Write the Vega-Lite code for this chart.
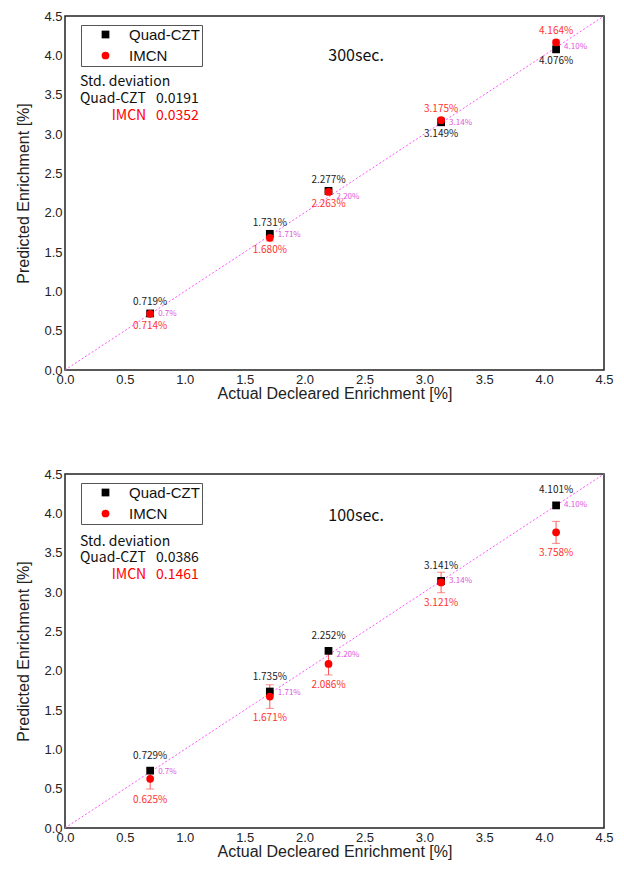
{
  "$schema": "https://vega.github.io/schema/vega-lite/v6.json",
  "padding": {"left": 15, "top": 9, "right": 6, "bottom": 5},
  "background": "white",
  "datasets": {
    "diag": [{"act": 0, "val": 0}, {"act": 4.5, "val": 4.5}],
    "p300": [
      {"act": 0.711, "actLab": "0.7%", "series": "Quad-CZT", "val": 0.719, "lab": "0.719%", "err": 0.0},
      {"act": 1.71, "actLab": "1.71%", "series": "Quad-CZT", "val": 1.731, "lab": "1.731%", "err": 0.0},
      {"act": 2.2, "actLab": "2.20%", "series": "Quad-CZT", "val": 2.277, "lab": "2.277%", "err": 0.0},
      {"act": 3.14, "actLab": "3.14%", "series": "Quad-CZT", "val": 3.149, "lab": "3.149%", "err": 0.0},
      {"act": 4.1, "actLab": "4.10%", "series": "Quad-CZT", "val": 4.076, "lab": "4.076%", "err": 0.0},
      {"act": 0.711, "actLab": "0.7%", "series": "IMCN", "val": 0.714, "lab": "0.714%", "err": 0.03},
      {"act": 1.71, "actLab": "1.71%", "series": "IMCN", "val": 1.68, "lab": "1.680%", "err": 0.04},
      {"act": 2.2, "actLab": "2.20%", "series": "IMCN", "val": 2.263, "lab": "2.263%", "err": 0.03},
      {"act": 3.14, "actLab": "3.14%", "series": "IMCN", "val": 3.175, "lab": "3.175%", "err": 0.03},
      {"act": 4.1, "actLab": "4.10%", "series": "IMCN", "val": 4.164, "lab": "4.164%", "err": 0.03}
    ],
    "p100": [
      {"act": 0.711, "actLab": "0.7%", "series": "Quad-CZT", "val": 0.729, "lab": "0.729%", "err": 0.0},
      {"act": 1.71, "actLab": "1.71%", "series": "Quad-CZT", "val": 1.735, "lab": "1.735%", "err": 0.0},
      {"act": 2.2, "actLab": "2.20%", "series": "Quad-CZT", "val": 2.252, "lab": "2.252%", "err": 0.0},
      {"act": 3.14, "actLab": "3.14%", "series": "Quad-CZT", "val": 3.141, "lab": "3.141%", "err": 0.0},
      {"act": 4.1, "actLab": "4.10%", "series": "Quad-CZT", "val": 4.101, "lab": "4.101%", "err": 0.0},
      {"act": 0.711, "actLab": "0.7%", "series": "IMCN", "val": 0.625, "lab": "0.625%", "err": 0.13},
      {"act": 1.71, "actLab": "1.71%", "series": "IMCN", "val": 1.671, "lab": "1.671%", "err": 0.15},
      {"act": 2.2, "actLab": "2.20%", "series": "IMCN", "val": 2.086, "lab": "2.086%", "err": 0.14},
      {"act": 3.14, "actLab": "3.14%", "series": "IMCN", "val": 3.121, "lab": "3.121%", "err": 0.13},
      {"act": 4.1, "actLab": "4.10%", "series": "IMCN", "val": 3.758, "lab": "3.758%", "err": 0.14}
    ],
    "note300": [{"t": "300sec.", "sd": "Std. deviation", "q": "Quad-CZT", "qv": "0.0191", "i": "IMCN", "iv": "0.0352"}],
    "note100": [{"t": "100sec.", "sd": "Std. deviation", "q": "Quad-CZT", "qv": "0.0386", "i": "IMCN", "iv": "0.1461"}]
  },
  "config": {
    "view": {"stroke": "#222", "strokeWidth": 1.5},
    "axis": {
      "grid": false, "domain": false, "ticks": false, "tickCount": 9,
      "labelFont": "Liberation Sans", "labelFontSize": 13, "labelColor": "#222",
      "titleFont": "Liberation Sans", "titleFontSize": 16, "titleFontWeight": "normal", "titleColor": "#222",
      "labelPadding": 3, "labelOverlap": false, "labelFlush": false
    },
    "axisX": {"titlePadding": -1, "labelPadding": 3},
    "axisY": {"titlePadding": 12},
    "legend": {
      "orient": "none", "legendX": 16, "legendY": 9, "title": null,
      "strokeColor": "#555", "fillColor": "white", "padding": 2,
      "labelFont": "Liberation Sans", "labelFontSize": 15, "labelColor": "#111",
      "symbolSize": 60, "symbolOffset": 15, "labelOffset": 16, "rowPadding": 5,
      "symbolStrokeWidth": 0
    }
  },
  "spacing": 65,
  "resolve": {"scale": {"color": "independent", "shape": "independent"}, "legend": {"color": "independent", "shape": "independent"}},
  "vconcat": [
    {
      "width": 539, "height": 354,
      "layer": [
        {
          "data": {"name": "diag"},
          "mark": {"type": "line", "color": "#ff55ff", "strokeDash": [2, 2], "strokeWidth": 1},
          "encoding": {
            "x": {"field": "act", "type": "quantitative", "scale": {"domain": [0, 4.5], "nice": false}, "title": "Actual Decleared Enrichment [%]"},
            "y": {"field": "val", "type": "quantitative", "scale": {"domain": [0, 4.5], "nice": false}, "title": "Predicted Enrichment [%]"}
          }
        },
        {
          "data": {"name": "p300"},
          "transform": [{"filter": "datum.series == 'IMCN'"}],
          "mark": {"type": "errorbar", "ticks": {"size": 8}, "color": "#ff5555"},
          "encoding": {
            "x": {"field": "act", "type": "quantitative", "title": "Actual Decleared Enrichment [%]"},
            "y": {"field": "val", "type": "quantitative", "title": "Predicted Enrichment [%]"},
            "yError": {"field": "err"}
          }
        },
        {
          "data": {"name": "p300"},
          "mark": {"type": "point", "filled": true, "size": 60, "opacity": 1},
          "encoding": {
            "x": {"field": "act", "type": "quantitative", "title": "Actual Decleared Enrichment [%]"},
            "y": {"field": "val", "type": "quantitative", "title": "Predicted Enrichment [%]"},
            "color": {"field": "series", "type": "nominal", "scale": {"domain": ["Quad-CZT", "IMCN"], "range": ["#000000", "#ff0000"]}},
            "shape": {"field": "series", "type": "nominal", "scale": {"domain": ["Quad-CZT", "IMCN"], "range": ["square", "circle"]}}
          }
        },
        {
          "data": {"name": "p300"},
          "transform": [{"filter": "datum.series == 'Quad-CZT' && datum.act < 3"}],
          "mark": {"type": "text", "dy": -11, "fontSize": 10, "font": "Noto Sans CJK KR", "color": "#222222"},
          "encoding": {
            "x": {"field": "act", "type": "quantitative", "title": "Actual Decleared Enrichment [%]"},
            "y": {"field": "val", "type": "quantitative", "title": "Predicted Enrichment [%]"},
            "text": {"field": "lab"}
          }
        },
        {
          "data": {"name": "p300"},
          "transform": [{"filter": "datum.series == 'Quad-CZT' && datum.act > 3"}],
          "mark": {"type": "text", "dy": 12, "fontSize": 10, "font": "Noto Sans CJK KR", "color": "#222222"},
          "encoding": {
            "x": {"field": "act", "type": "quantitative", "title": "Actual Decleared Enrichment [%]"},
            "y": {"field": "val", "type": "quantitative", "title": "Predicted Enrichment [%]"},
            "text": {"field": "lab"}
          }
        },
        {
          "data": {"name": "p300"},
          "transform": [{"filter": "datum.series == 'IMCN' && datum.act > 3"}],
          "mark": {"type": "text", "dy": -11, "fontSize": 10, "font": "Noto Sans CJK KR", "color": "#ff3333"},
          "encoding": {
            "x": {"field": "act", "type": "quantitative", "title": "Actual Decleared Enrichment [%]"},
            "y": {"field": "val", "type": "quantitative", "title": "Predicted Enrichment [%]"},
            "text": {"field": "lab"}
          }
        },
        {
          "data": {"name": "p300"},
          "transform": [{"filter": "datum.series == 'IMCN' && datum.act < 3"}],
          "mark": {"type": "text", "dy": 12, "fontSize": 10, "font": "Noto Sans CJK KR", "color": "#ff3333"},
          "encoding": {
            "x": {"field": "act", "type": "quantitative", "title": "Actual Decleared Enrichment [%]"},
            "y": {"field": "val", "type": "quantitative", "title": "Predicted Enrichment [%]"},
            "text": {"field": "lab"}
          }
        },
        {
          "data": {"name": "p300"},
          "transform": [{"filter": "datum.series == 'Quad-CZT'"}],
          "mark": {"type": "text", "dx": 8, "align": "left", "fontSize": 8, "font": "Noto Sans CJK KR", "color": "#e055e0"},
          "encoding": {
            "x": {"field": "act", "type": "quantitative", "title": "Actual Decleared Enrichment [%]"},
            "y": {"field": "act", "type": "quantitative", "title": "Predicted Enrichment [%]"},
            "text": {"field": "actLab"}
          }
        },
        {
          "data": {"name": "note300"},
          "mark": {"type": "text", "align": "center", "fontSize": 16, "font": "Noto Sans CJK KR", "color": "#111"},
          "encoding": {"x": {"datum": 2.43}, "y": {"datum": 3.99}, "text": {"field": "t"}}
        },
        {
          "data": {"name": "note300"},
          "mark": {"type": "text", "align": "left", "fontSize": 14, "font": "Noto Sans CJK KR", "color": "#111"},
          "encoding": {"x": {"datum": 0.125}, "y": {"datum": 3.66}, "text": {"field": "sd"}}
        },
        {
          "data": {"name": "note300"},
          "mark": {"type": "text", "align": "left", "fontSize": 14, "font": "Noto Sans CJK KR", "color": "#111"},
          "encoding": {"x": {"datum": 0.125}, "y": {"datum": 3.45}, "text": {"field": "q"}}
        },
        {
          "data": {"name": "note300"},
          "mark": {"type": "text", "align": "left", "fontSize": 14, "font": "Noto Sans CJK KR", "color": "#111"},
          "encoding": {"x": {"datum": 0.76}, "y": {"datum": 3.45}, "text": {"field": "qv"}}
        },
        {
          "data": {"name": "note300"},
          "mark": {"type": "text", "align": "left", "fontSize": 14, "font": "Noto Sans CJK KR", "color": "#ff0000"},
          "encoding": {"x": {"datum": 0.39}, "y": {"datum": 3.23}, "text": {"field": "i"}}
        },
        {
          "data": {"name": "note300"},
          "mark": {"type": "text", "align": "left", "fontSize": 14, "font": "Noto Sans CJK KR", "color": "#ff0000"},
          "encoding": {"x": {"datum": 0.76}, "y": {"datum": 3.23}, "text": {"field": "iv"}}
        }
      ]
    },
    {
      "width": 539, "height": 354,
      "layer": [
        {
          "data": {"name": "diag"},
          "mark": {"type": "line", "color": "#ff55ff", "strokeDash": [2, 2], "strokeWidth": 1},
          "encoding": {
            "x": {"field": "act", "type": "quantitative", "scale": {"domain": [0, 4.5], "nice": false}, "title": "Actual Decleared Enrichment [%]"},
            "y": {"field": "val", "type": "quantitative", "scale": {"domain": [0, 4.5], "nice": false}, "title": "Predicted Enrichment [%]"}
          }
        },
        {
          "data": {"name": "p100"},
          "transform": [{"filter": "datum.series == 'IMCN'"}],
          "mark": {"type": "errorbar", "ticks": {"size": 8}, "color": "#ff5555"},
          "encoding": {
            "x": {"field": "act", "type": "quantitative", "title": "Actual Decleared Enrichment [%]"},
            "y": {"field": "val", "type": "quantitative", "title": "Predicted Enrichment [%]"},
            "yError": {"field": "err"}
          }
        },
        {
          "data": {"name": "p100"},
          "mark": {"type": "point", "filled": true, "size": 60, "opacity": 1},
          "encoding": {
            "x": {"field": "act", "type": "quantitative", "title": "Actual Decleared Enrichment [%]"},
            "y": {"field": "val", "type": "quantitative", "title": "Predicted Enrichment [%]"},
            "color": {"field": "series", "type": "nominal", "scale": {"domain": ["Quad-CZT", "IMCN"], "range": ["#000000", "#ff0000"]}},
            "shape": {"field": "series", "type": "nominal", "scale": {"domain": ["Quad-CZT", "IMCN"], "range": ["square", "circle"]}}
          }
        },
        {
          "data": {"name": "p100"},
          "transform": [{"filter": "datum.series == 'Quad-CZT'"}],
          "mark": {"type": "text", "dy": -15, "fontSize": 10, "font": "Noto Sans CJK KR", "color": "#222222"},
          "encoding": {
            "x": {"field": "act", "type": "quantitative", "title": "Actual Decleared Enrichment [%]"},
            "y": {"field": "val", "type": "quantitative", "title": "Predicted Enrichment [%]"},
            "text": {"field": "lab"}
          }
        },
        {
          "data": {"name": "p100"},
          "transform": [{"filter": "datum.series == 'IMCN'"}],
          "mark": {"type": "text", "dy": 21, "fontSize": 10, "font": "Noto Sans CJK KR", "color": "#ff3333"},
          "encoding": {
            "x": {"field": "act", "type": "quantitative", "title": "Actual Decleared Enrichment [%]"},
            "y": {"field": "val", "type": "quantitative", "title": "Predicted Enrichment [%]"},
            "text": {"field": "lab"}
          }
        },
        {
          "data": {"name": "p100"},
          "transform": [{"filter": "datum.series == 'Quad-CZT'"}],
          "mark": {"type": "text", "dx": 8, "align": "left", "fontSize": 8, "font": "Noto Sans CJK KR", "color": "#e055e0"},
          "encoding": {
            "x": {"field": "act", "type": "quantitative", "title": "Actual Decleared Enrichment [%]"},
            "y": {"field": "act", "type": "quantitative", "title": "Predicted Enrichment [%]"},
            "text": {"field": "actLab"}
          }
        },
        {
          "data": {"name": "note100"},
          "mark": {"type": "text", "align": "center", "fontSize": 16, "font": "Noto Sans CJK KR", "color": "#111"},
          "encoding": {"x": {"datum": 2.43}, "y": {"datum": 3.97}, "text": {"field": "t"}}
        },
        {
          "data": {"name": "note100"},
          "mark": {"type": "text", "align": "left", "fontSize": 14, "font": "Noto Sans CJK KR", "color": "#111"},
          "encoding": {"x": {"datum": 0.125}, "y": {"datum": 3.64}, "text": {"field": "sd"}}
        },
        {
          "data": {"name": "note100"},
          "mark": {"type": "text", "align": "left", "fontSize": 14, "font": "Noto Sans CJK KR", "color": "#111"},
          "encoding": {"x": {"datum": 0.125}, "y": {"datum": 3.43}, "text": {"field": "q"}}
        },
        {
          "data": {"name": "note100"},
          "mark": {"type": "text", "align": "left", "fontSize": 14, "font": "Noto Sans CJK KR", "color": "#111"},
          "encoding": {"x": {"datum": 0.76}, "y": {"datum": 3.43}, "text": {"field": "qv"}}
        },
        {
          "data": {"name": "note100"},
          "mark": {"type": "text", "align": "left", "fontSize": 14, "font": "Noto Sans CJK KR", "color": "#ff0000"},
          "encoding": {"x": {"datum": 0.39}, "y": {"datum": 3.21}, "text": {"field": "i"}}
        },
        {
          "data": {"name": "note100"},
          "mark": {"type": "text", "align": "left", "fontSize": 14, "font": "Noto Sans CJK KR", "color": "#ff0000"},
          "encoding": {"x": {"datum": 0.76}, "y": {"datum": 3.21}, "text": {"field": "iv"}}
        }
      ]
    }
  ]
}
